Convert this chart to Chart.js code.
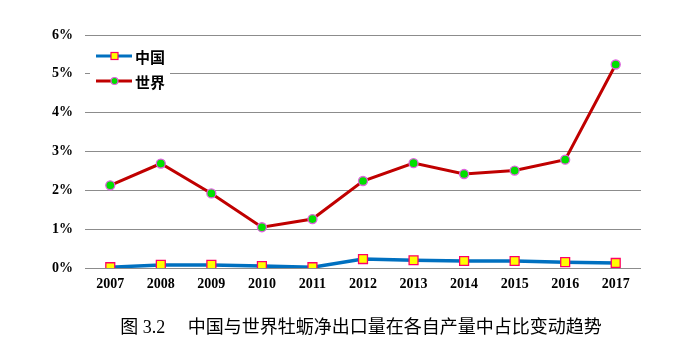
<!DOCTYPE html>
<html><head><meta charset="utf-8">
<script src="https://cdn.jsdelivr.net/npm/chart.js@4.4.0/dist/chart.umd.min.js"></script>
<style>html,body{margin:0;padding:0;background:#fff}#wrap{width:680px;height:357px;position:relative}</style>
</head><body><div id="wrap"><canvas id="c" width="680" height="357"></canvas></div>
<script>
const years = ['2007','2008','2009','2010','2011','2012','2013','2014','2015','2016','2017'];
const chinaShare = [0.02,0.08,0.08,0.05,0.02,0.23,0.20,0.18,0.18,0.15,0.13];
const worldShare = [2.13,2.69,1.92,1.05,1.26,2.24,2.70,2.42,2.51,2.79,5.24];
const seriesNames = ['中国','世界'];
const yTicks = [0,1,2,3,4,5,6];
const caption = '图 3.2　 中国与世界牡蛎净出口量在各自产量中占比变动趋势';

const legendPlugin = {
  id: 'insideLegend',
  afterDraw(chart) {
    const ctx = chart.ctx;
    ctx.save();
    ctx.fillStyle = '#fff';
    ctx.fillRect(90, 44, 80, 50);
    const items = [
      {y: 56, color: '#0070C0', type: 'rect', fill: '#FFFF00', stroke: '#FF0066', text: seriesNames[0]},
      {y: 81, color: '#C00000', type: 'circle', fill: '#00E000', stroke: '#E060E0', text: seriesNames[1]}
    ];
    items.forEach(it => {
      ctx.strokeStyle = it.color; ctx.lineWidth = 3;
      ctx.beginPath(); ctx.moveTo(96, it.y); ctx.lineTo(132, it.y); ctx.stroke();
      ctx.fillStyle = it.fill; ctx.strokeStyle = it.stroke; ctx.lineWidth = 1.2;
      if (it.type === 'rect') {
        ctx.fillRect(111, it.y - 3.5, 7, 7); ctx.strokeRect(111, it.y - 3.5, 7, 7);
      } else {
        ctx.beginPath(); ctx.arc(114.5, it.y, 3.5, 0, Math.PI * 2); ctx.fill(); ctx.stroke();
      }
      ctx.fillStyle = '#000';
      ctx.font = 'bold 15px "Noto Sans CJK SC"';
      ctx.textBaseline = 'middle';
      ctx.fillText(it.text, 135, it.y + 1);
    });
    ctx.restore();
  }
};

const captionPlugin = {
  id: 'caption',
  afterDraw(chart) {
    const ctx = chart.ctx;
    ctx.save();
    ctx.fillStyle = '#000';
    ctx.font = '18px "Liberation Serif", "Noto Sans CJK SC"';
    ctx.textAlign = 'center';
    ctx.textBaseline = 'middle';
    ctx.fillText(caption, 361, 328);
    ctx.restore();
  }
};

new Chart(document.getElementById('c'), {
  type: 'line',
  data: {
    labels: years,
    datasets: [
      {label: seriesNames[0], data: chinaShare, borderColor: '#0070C0', borderWidth: 3.5,
       pointStyle: 'rect', pointRadius: 6.3, pointBackgroundColor: '#FFFF00', pointBorderColor: '#FF0066', pointBorderWidth: 1.3, tension: 0},
      {label: seriesNames[1], data: worldShare, borderColor: '#C00000', borderWidth: 3,
       pointStyle: 'circle', pointRadius: 4.5, pointBackgroundColor: '#00E000', pointBorderColor: '#E060E0', pointBorderWidth: 1.3, tension: 0}
    ]
  },
  options: {
    responsive: false, animation: false,
    layout: {padding: {left: 0, right: 39, top: 35, bottom: 59}},
    plugins: {legend: {display: false}, tooltip: {enabled: false}, title: {display: false}},
    scales: {
      x: {
        offset: true,
        afterFit(axis) { axis.height = 30; },
        grid: {display: false, drawTicks: false},
        border: {display: false},
        ticks: {color: '#000', font: {family: '"Liberation Serif"', size: 14, weight: 'bold'}, padding: 8, maxRotation: 0}
      },
      y: {
        min: 0, max: 6,
        afterBuildTicks(axis) { axis.ticks = yTicks.map(v => ({value: v})); },
        afterFit(axis) { axis.width = 85; },
        grid: {color: '#8c8c8c', lineWidth: 1, drawTicks: false},
        border: {display: false},
        ticks: {color: '#000', font: {family: '"Liberation Serif"', size: 14, weight: 'bold'}, padding: 12,
                callback: v => v + '%'}
      }
    }
  },
  plugins: [legendPlugin, captionPlugin]
});
</script></body></html>
